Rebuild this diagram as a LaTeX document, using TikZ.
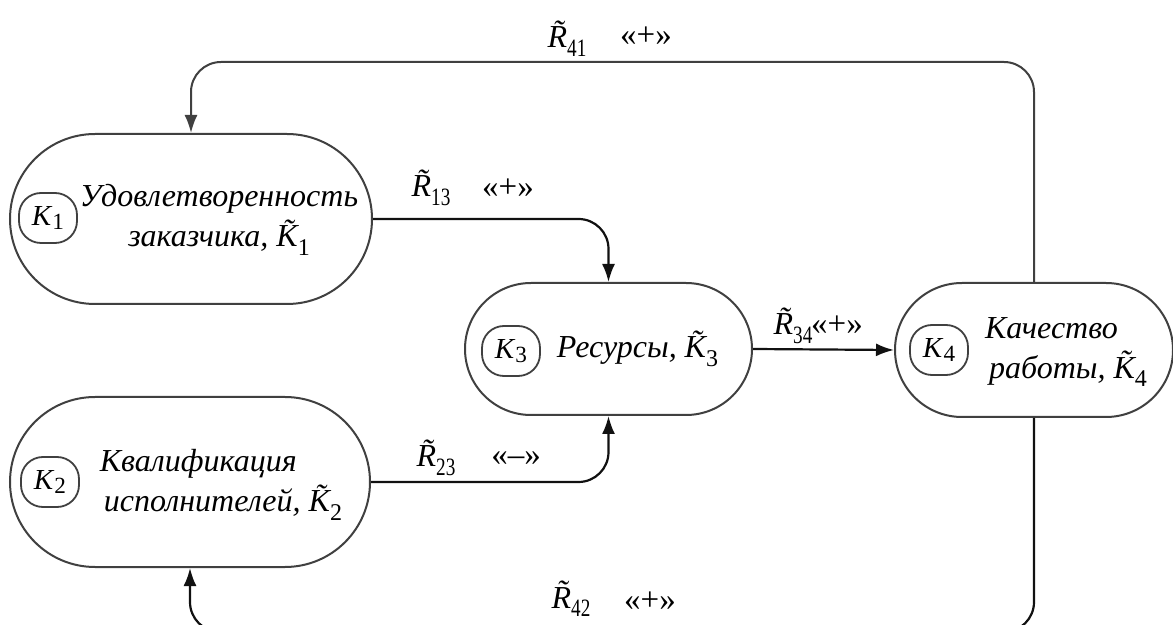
\documentclass[tikz,border=0pt]{standalone}
\usepackage{fontspec}
\setmainfont{Liberation Serif}
\usetikzlibrary{arrows.meta,positioning}
\definecolor{ink}{HTML}{404040}
\definecolor{wire}{HTML}{111111}
\newcommand{\Kn}[1]{\textit{K}\raisebox{-0.25ex}{\upshape\scalebox{0.8}{#1}}}
\newcommand{\Kt}[1]{\~K\raisebox{-0.6ex}{\upshape\scalebox{0.75}{#1}}}
\newcommand{\Rt}[1]{{\itshape\~R}\raisebox{-0.28em}{\upshape\scalebox{0.6}[0.78]{#1}}}
\tikzset{
  >={Latex[length=9pt,width=6.5pt]},
  every node/.style={text=black},
  stadium/.style={draw=ink,line width=1pt,inner sep=0pt},
  ktag/.style={draw=ink,line width=0.9pt,rounded corners=11pt,minimum width=29pt,minimum height=25pt,inner sep=0pt,font=\fontsize{14.5}{16}\selectfont},
  captext/.style={font=\fontsize{16}{20}\selectfont\itshape,align=center,inner sep=0pt},
  rlabel/.style={font=\fontsize{16}{17}\selectfont,inner sep=0pt},
  signlabel/.style={font=\fontsize{16.5}{17}\selectfont,inner sep=0pt},
  link/.style={->,line width=1.1pt,draw=wire,rounded corners=15pt},
  backlink/.style={link,line width=1pt,draw=ink},
}

\begin{document}
\begin{tikzpicture}[x=0.5pt,y=-0.5pt]
\useasboundingbox (0,0) rectangle (1173,625);
\clip (0,0) rectangle (1173,625);

\node[stadium,minimum width=181pt,minimum height=85pt,rounded corners=42.5pt] (k1) at (191,219) {};
\node[stadium,minimum width=180pt,minimum height=85pt,rounded corners=42.5pt] (k2) at (190,482) {};
\node[stadium,minimum width=143.5pt,minimum height=66pt,rounded corners=33pt] (k3) at (608.5,349) {};
\node[stadium,minimum width=139pt,minimum height=67pt,rounded corners=33.5pt] (k4) at (1034,350) {};

\node[ktag] (k1tag) at (48,218) {\Kn{1}};
\node[ktag] (k2tag) at (50,482) {\Kn{2}};
\node[ktag] (k3tag) at (511,351) {\Kn{3}};
\node[ktag] (k4tag) at (939,350) {\Kn{4}};

\node[captext] (k1txt) at (219,220) {Удовлетворенность\\заказчика, \Kt{1}};
\node[captext,align=left] (k2txt) at (221,485) {Квалификация\\\hspace{2pt}исполнителей, \Kt{2}};
\node[captext,anchor=base] (k3txt) at (637.5,358) {Ресурсы, \Kt{3}};
\node[captext,align=left] (k4txt) at (1066,352) {Качество\\\hspace{2pt}работы, \Kt{4}};

\coordinate (top) at (0,62);
\coordinate (bot) at (0,632);
\draw[link] (k1.east) -| (k3.north);
\draw[link] (k2.east) -| (k3.south);
\draw[link] (k3.east) -- (k4.west);
\draw[backlink] (k4.north) |- (k1.north |- top) -- (k1.north);
\draw[link] (k4.south) |- (k2.south |- bot) -- (k2.south);

\node[rlabel,anchor=base] (r41) at (567,48) {\Rt{41}};
\node[signlabel] (s41) at (646,36) {«+»};
\node[rlabel,anchor=base] (r13) at (431,197) {\Rt{13}};
\node[signlabel] (s13) at (508,188) {«+»};
\node[rlabel,anchor=base] (r23) at (436,467) {\Rt{23}};
\node[signlabel] (s23) at (516,459) {«–»};
\node[rlabel,anchor=base] (r34) at (793,335) {\Rt{34}};
\node[signlabel] (s34) at (837,325) {«+»};
\node[rlabel,anchor=base] (r42) at (571,608) {\Rt{42}};
\node[signlabel] (s42) at (650,601) {«+»};
\end{tikzpicture}
\end{document}
